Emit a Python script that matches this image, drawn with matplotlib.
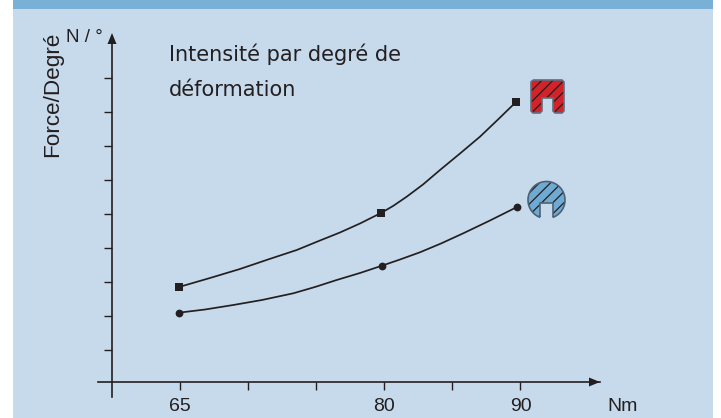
import numpy as np
import matplotlib
matplotlib.use("Agg")
import matplotlib.pyplot as plt
from matplotlib.patches import Rectangle, PathPatch
from matplotlib.path import Path

plt.rcParams['font.family'] = ['Liberation Sans', 'DejaVu Sans']
plt.rcParams['hatch.linewidth'] = 0.9

W, H = 721, 418
# x positions are tick indices (unevenly labelled in the source)
x_ticks = [0, 1, 2, 3, 4, 5]
x_labels = ['65', '', '', '80', '', '90']

sq_x = [-0.015, 0.441, 0.881, 1.292, 1.714, 2.056, 2.349, 2.643, 2.952, 3.128, 3.329, 3.568, 3.818, 4.112, 4.405, 4.670, 4.934]
sq_y = [2.794, 3.059, 3.324, 3.603, 3.882, 4.162, 4.397, 4.662, 4.971, 5.176, 5.450, 5.809, 6.235, 6.721, 7.215, 7.721, 8.235]
ci_x = [-0.019, 0.367, 0.783, 1.204, 1.664, 1.982, 2.301, 2.643, 2.966, 3.231, 3.524, 3.833, 4.160, 4.552, 4.949]
ci_y = [2.038, 2.132, 2.265, 2.412, 2.609, 2.794, 3.0, 3.206, 3.421, 3.603, 3.815, 4.074, 4.374, 4.750, 5.147]
sq_mark_x = [-0.015, 2.952, 4.934]
sq_mark_y = [2.794, 4.971, 8.235]
ci_mark_x = [-0.019, 2.966, 4.949]
ci_mark_y = [2.038, 3.421, 5.147]

ink = '#231F20'
fig = plt.figure(figsize=(W / 100, H / 100), dpi=100, facecolor='white')

# pixel-space background layer
bg = fig.add_axes([0, 0, 1, 1], zorder=0)
bg.set_xlim(0, W); bg.set_ylim(H, 0); bg.axis('off')
bg.add_patch(Rectangle((13, 0), 700, H, fc='#C7DAEC', ec='none'))
bg.add_patch(Rectangle((13, 0), 700, 9, fc='#7BB0D6', ec='none'))

# chart axes: px box x 98..600, y 36..397
L, R, T, B = 98, 600, 36, 397
ax = fig.add_axes([L / W, 1 - B / H, (R - L) / W, (B - T) / H], zorder=1)
ax.patch.set_alpha(0)
px_x = lambda p: (p - 180) / 68.1
px_y = lambda p: (382 - p) / 34
ax.set_xlim(px_x(L), px_x(R))
ax.set_ylim(px_y(B), px_y(T))
for s in ('top', 'right'):
    ax.spines[s].set_visible(False)
ax.spines['left'].set_position(('data', px_x(112)))
ax.spines['bottom'].set_position(('data', 0))
for s in ('left', 'bottom'):
    ax.spines[s].set_linewidth(1.2)
    ax.spines[s].set_color(ink)
ax.set_xticks(x_ticks, x_labels, fontsize=14, color=ink)
ax.set_yticks([px_y(p) for p in (350, 316, 282, 248, 214, 180, 146, 112, 78)], [])
ax.tick_params(axis='x', length=5.5, width=1, color=ink, pad=6)
ax.tick_params(axis='y', length=6, width=1, color=ink)

ax.plot(sq_x, sq_y, color=ink, lw=1.25, zorder=3)
ax.plot(ci_x, ci_y, color=ink, lw=1.25, zorder=3)
ax.plot(sq_mark_x, sq_mark_y, ls='none', marker='s', ms=5.8, color=ink, mew=0, zorder=4)
ax.plot(ci_mark_x, ci_mark_y, ls='none', marker='o', ms=5.6, color=ink, mew=0, zorder=4)

# overlay in pixel space: arrows, text, icons
fg = fig.add_axes([0, 0, 1, 1], zorder=2)
fg.set_xlim(0, W); fg.set_ylim(H, 0); fg.axis('off')
fg.fill([112, 107.5, 116.5], [33, 44, 44], color=ink, lw=0)
fg.fill([600, 589, 589], [382, 377.5, 386.5], color=ink, lw=0)

fg.text(169, 61, 'Intensité par degré de', fontsize=15, color=ink, va='baseline', ha='left',
        family=['DejaVu Sans'])
fg.text(169, 95.7, 'déformation', fontsize=15, color=ink, va='baseline', ha='left',
        family=['DejaVu Sans'])
fg.text(66.5, 41.7, 'N / °', fontsize=13.5, color=ink, va='baseline', ha='left')
fg.text(58, 157, 'Force/Degré', fontsize=16.2, color=ink, rotation=90, va='baseline', ha='left',
        rotation_mode='anchor')
fg.text(622.5, 411, 'Nm', fontsize=14, color=ink, va='baseline', ha='center')

# red profile
red = [(533, 80), (562, 80), (564, 82), (564, 111), (562, 113), (555, 113), (553, 111), (553, 98),
       (542, 98), (542, 111), (540, 113), (533, 113), (531, 111), (531, 82), (533, 80)]
fg.add_patch(PathPatch(Path(red), fc='#D2232A', ec=ink, hatch='///', lw=0))
fg.add_patch(PathPatch(Path(red), fc='none', ec='#5E6F80', lw=1.2))

# blue profile
cx, cy, r = 546.5, 200, 18.5
a = np.arcsin(6.5 / r)
angles = np.linspace(np.pi / 2 + a, 2.5 * np.pi - a, 80)
arc = [(cx + r * np.cos(t), cy + r * np.sin(t)) for t in angles]
blue = arc + [(553, 203), (540, 203)] + [arc[0]]
fg.add_patch(PathPatch(Path(blue), fc='#6FAAD3', ec=ink, hatch='///', lw=0))
fg.add_patch(PathPatch(Path(blue), fc='none', ec='#4F6275', lw=1.2))

fig.savefig('out.png', dpi=100, facecolor='white')
